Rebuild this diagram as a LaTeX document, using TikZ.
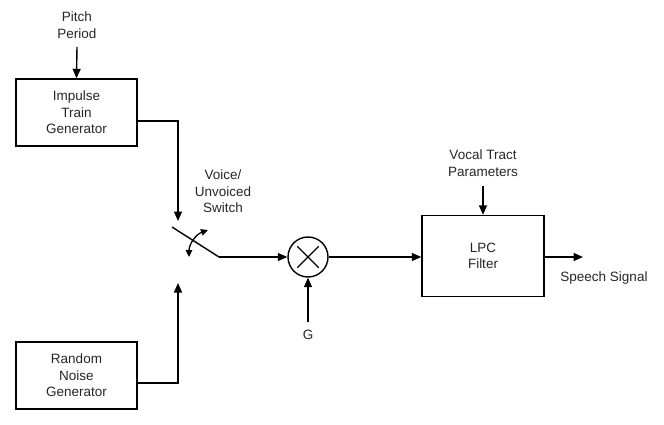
\documentclass[tikz,border=0pt]{standalone}
\usepackage{fontspec}
\setmainfont{Liberation Sans}
\usetikzlibrary{arrows.meta,calc}
\begin{document}
\begin{tikzpicture}[x=1pt,y=-1pt,
  line width=1.4pt,
  every node/.style={font=\fontsize{13.5}{16.5}\selectfont,text=black!85,align=center,inner sep=0pt},
  blk/.style={draw,rectangle,line width=1.4pt},
  arr/.style={-{Triangle[length=9.5pt,width=8pt]}},
  lbl/.style={}]
\useasboundingbox (0,0) rectangle (664,425);
% blocks
\node[blk,minimum width=121pt,minimum height=67pt] (imp) at (76.5,112.5) {Impulse\\Train\\Generator};
\node[blk,minimum width=121pt,minimum height=67pt] (rng) at (76.5,375.5) {Random\\Noise\\Generator};
\node[blk,minimum width=122pt,minimum height=81pt] (lpc) at (483,256) {LPC\\Filter};
\node[draw,circle,minimum size=40pt,line width=1.4pt] (mul) at (308,257) {};
\draw[shorten >=5.5pt,shorten <=5.5pt] (mul.45) -- (mul.225);
\draw[shorten >=5.5pt,shorten <=5.5pt] (mul.135) -- (mul.315);
% labels
\node[lbl] (pitch) at (77,25) {Pitch\\Period};
\node[lbl] (vsw) at (223,191.5) {Voice/\\Unvoiced\\Switch};
\node[lbl] (vtp) at (483,163) {Vocal Tract\\Parameters};
\node[lbl] (g) at (308,335) {G};
\node[lbl] (sp) at (604,278) {Speech Signal};
% coordinates
\coordinate (pp) at (77,47);
\coordinate (vt) at (483,186);
\coordinate (gt) at (308,322);
\coordinate (sw1) at (172,227);
\coordinate (sw2) at (219,257);
\coordinate (swin1) at (178,221);
\coordinate (swin2) at (178,283);
\coordinate (out) at (583,257);
% connectors
\draw[arr] (pp) -- (imp.north);
\draw[arr] (vt) -- (lpc.north);
\draw[arr] (gt) -- (mul.south);
\draw[arr] (imp.east |- 0,121) -| (swin1);
\draw[arr] (rng.east |- 0,383) -| (swin2);
\draw (sw1) -- (sw2);
\draw[arr] (sw2) -- (mul.west);
\draw[arr] (mul.east) -- (lpc.west |- mul.east);
\draw[arr] (lpc.east |- out) -- (out);
% switch double arrow
\coordinate (ca) at (208,230);
\coordinate (cb) at (189,257);
\draw[{Triangle[length=7pt,width=6.5pt]}-{Triangle[length=7pt,width=6.5pt]},line width=1.3pt] (ca) to[bend right=35] (cb);
\end{tikzpicture}
\end{document}
